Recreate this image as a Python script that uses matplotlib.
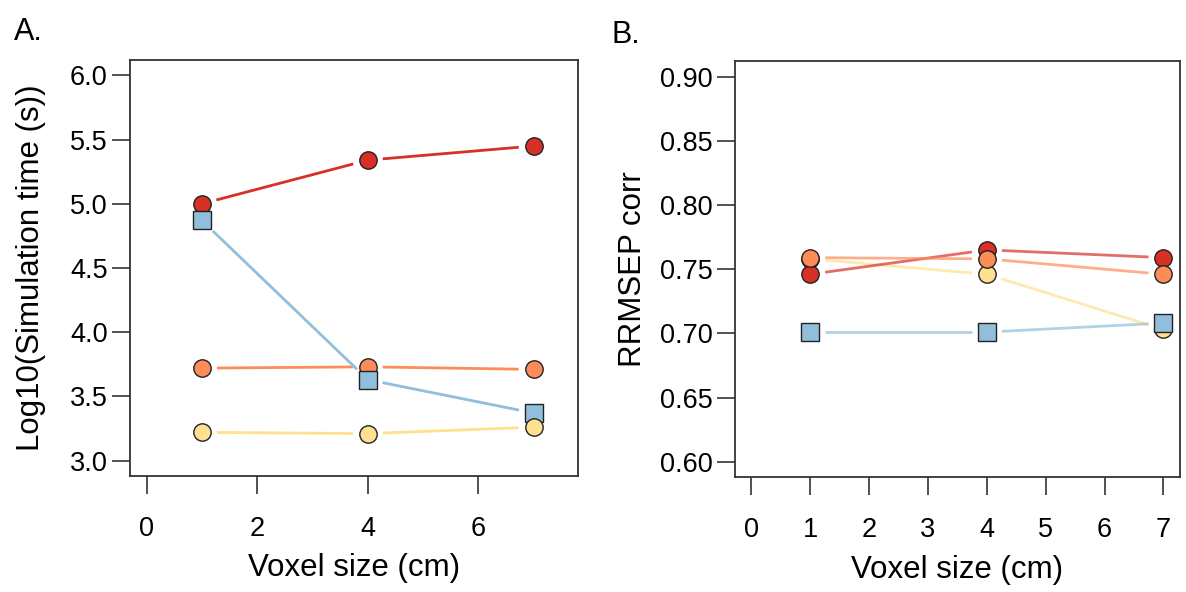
import numpy as np
import matplotlib.pyplot as plt

plt.rcParams['font.family'] = ['Liberation Sans', 'DejaVu Sans']

## data
voxel = [1, 4, 7]

# panel A: log10 simulation time
time_red = [5.00, 5.34, 5.45]
time_orange = [3.72, 3.73, 3.71]
time_yellow = [3.22, 3.21, 3.26]
time_blue = [4.87, 3.63, 3.37]

# panel B: RRMSEP corr
rmse_red = [0.746, 0.765, 0.759]
rmse_orange = [0.759, 0.758, 0.746]
rmse_yellow = [0.758, 0.746, 0.703]
rmse_blue = [0.701, 0.701, 0.708]

RED, ORANGE, YELLOW, BLUE = '#D73027', '#FC8D59', '#FEE090', '#91BFDB'
FRAME = '#333333'


def gapped_line(ax, x, y, color, alpha=1.0, gap=15):
    # R type="b": segments stop short of the points
    tr = ax.transData
    pts = tr.transform(np.column_stack([x, y]))
    for p0, p1 in zip(pts[:-1], pts[1:]):
        d = p1 - p0
        n = np.hypot(*d)
        if n <= 2 * gap:
            continue
        u = d / n
        a = tr.inverted().transform(p0 + u * gap)
        b = tr.inverted().transform(p1 - u * gap)
        ax.plot([a[0], b[0]], [a[1], b[1]], color=color, lw=2.0,
                alpha=alpha, solid_capstyle='butt', zorder=2)


def style(ax):
    for s in ax.spines.values():
        s.set_color(FRAME)
        s.set_linewidth(1.3)
    ax.tick_params(axis='both', direction='out', length=13, width=1.2,
                   color=FRAME, labelsize=19.5)
    ax.tick_params(axis='x', pad=16)
    ax.tick_params(axis='y', pad=3)


fig = plt.figure(figsize=(11.86, 5.92), dpi=100)
axA = fig.add_axes([0.1096, 0.196, 0.3777, 0.7027])
axB = fig.add_axes([0.6197, 0.194, 0.3752, 0.7027])

## panel A
axA.set_xlim(-0.3, 7.8)
axA.set_ylim(2.88, 6.12)
axA.set_xticks([0, 2, 4, 6])
axA.set_yticks([3.0, 3.5, 4.0, 4.5, 5.0, 5.5, 6.0])
axA.set_yticklabels(['3.0', '3.5', '4.0', '4.5', '5.0', '5.5', '6.0'])
style(axA)
seriesA = [(time_red, RED, 'o'), (time_orange, ORANGE, 'o'),
           (time_blue, BLUE, 's'), (time_yellow, YELLOW, 'o')]
for y, c, m in seriesA:
    gapped_line(axA, voxel, y, c)
for i, (y, c, m) in enumerate(seriesA):
    axA.plot(voxel, y, ls='none', marker=m, ms=12.5, mfc=c, mec='#222222',
             mew=1.0, zorder=3 + i * 0.1)
axA.set_xlabel('Voxel size (cm)', fontsize=22.5)
axA.set_ylabel('Log10(Simulation time (s))', fontsize=22.5)
axA.xaxis.set_label_coords(0.5, -0.222)
axA.xaxis.label.set_va('center')
axA.yaxis.set_label_coords(-0.222, 0.5)
axA.yaxis.label.set_va('center')

## panel B
axB.set_xlim(-0.28, 7.28)
axB.set_ylim(0.588, 0.912)
axB.set_xticks(range(8))
axB.set_yticks([0.60, 0.65, 0.70, 0.75, 0.80, 0.85, 0.90])
axB.set_yticklabels(['0.60', '0.65', '0.70', '0.75', '0.80', '0.85', '0.90'])
style(axB)
seriesB = [(rmse_yellow, YELLOW, 'o'), (rmse_red, RED, 'o'),
           (rmse_orange, ORANGE, 'o'), (rmse_blue, BLUE, 's')]
for y, c, m in seriesB:
    gapped_line(axB, voxel, y, c, alpha=0.7)
for i, (y, c, m) in enumerate(seriesB):
    axB.plot(voxel, y, ls='none', marker=m, ms=12.5, mfc=c, mec='#222222',
             mew=1.0, zorder=3 + i * 0.1)
axB.set_xlabel('Voxel size (cm)', fontsize=22.5)
axB.set_ylabel('RRMSEP corr', fontsize=22.5)
axB.xaxis.set_label_coords(0.5, -0.222)
axB.xaxis.label.set_va('center')
axB.yaxis.set_label_coords(-0.23, 0.5)
axB.yaxis.label.set_va('center')

fig.text(28 / 1186, 1 - 32 / 592, 'A.', fontsize=22, ha='center', va='center')
fig.text(626 / 1186, 1 - 35 / 592, 'B.', fontsize=22, ha='center', va='center')

plt.savefig('out.png', dpi=100)
